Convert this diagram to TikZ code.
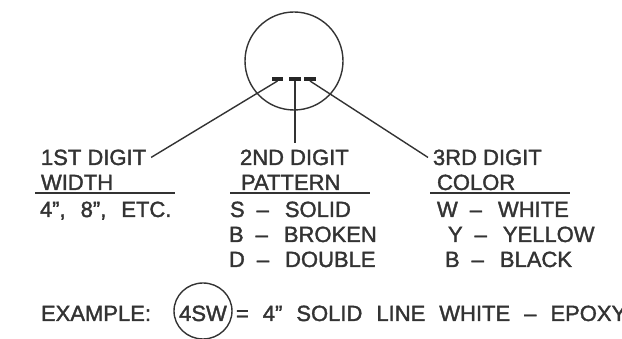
\documentclass[tikz,border=0pt]{standalone}
\usepackage{fontspec}
\setmainfont{Liberation Sans}
\newfontfamily\cadfont{Liberation Sans}[FakeBold=1.6]
\usetikzlibrary{positioning}
\tikzset{every node/.append style={inner sep=0pt, outer sep=0pt, text=black!80}}
\tikzset{lbl/.style={anchor=base west, font=\fontsize{22}{26}\cadfont}}
\tikzset{tick/.style={fill=black!85, minimum width=11pt, minimum height=4pt}}
\newcommand{\code}[2]{#1\hspace{12pt}–\hspace{16pt}#2}

\begin{document}
\begin{tikzpicture}[x=1pt,y=-1pt,line width=1.4pt,draw=black!80]
  \useasboundingbox (0,0) rectangle (622,339);
  \draw (294,61) circle[radius=49pt];

  \node[tick] (d1) at (277.5,79) {};
  \node[tick, minimum width=12pt] (d2) at (295,79) {};
  \node[tick, minimum width=12pt] (d3) at (310,79) {};

  % headings
  \node[lbl] (first) at (41,165) {1ST DIGIT};
  \node[lbl] (second) at (240,165) {2ND DIGIT};
  \node[lbl] (third) at (433,165) {3RD DIGIT};
  \draw (d1.south) -- ([xshift=5pt]first.east);
  \draw (d2.south) -- ([yshift=7pt]d2.south |- second.north);
  \draw (d3.south) -- ([xshift=-5pt]third.west);

  \node[lbl] (width) at (41,190) {WIDTH};
  \node[lbl] (pattern) at (241,190) {PATTERN};
  \node[lbl] (color) at (437,190) {COLOR};
  \draw (35,193) -- (175,193);
  \draw (230,193) -- (370,193);
  \draw (430,193) -- (570,193);

  \node[lbl] (sizes) at (40,217) {4”,\hspace{15pt}8”,\hspace{15pt}ETC.};
  \node[lbl] (solid) at (230,217) {\code{S}{SOLID}};
  \node[lbl] (broken) at (229,242) {\code{B}{BROKEN}};
  \node[lbl] (double) at (229,267) {\code{D}{DOUBLE}};
  \node[lbl] (white) at (437,217) {\code{W}{WHITE}};
  \node[lbl] (yellow) at (448,242) {\code{Y}{YELLOW}};
  \node[lbl] (black) at (445,267) {\code{B}{BLACK}};

  % example line
  \node[lbl] (example) at (41,321) {EXAMPLE:};
  \node[lbl, anchor=base] (ex) at (203,321) {4SW};
  \draw (203,311) ellipse[x radius=29pt, y radius=28pt];
  \node[lbl] (means) at (236,321) {=\hspace{14pt}4”\hspace{14pt}SOLID\hspace{14pt}LINE\hspace{14pt}WHITE\hspace{14pt}–\hspace{14pt}EPOXY};
\end{tikzpicture}
\end{document}
